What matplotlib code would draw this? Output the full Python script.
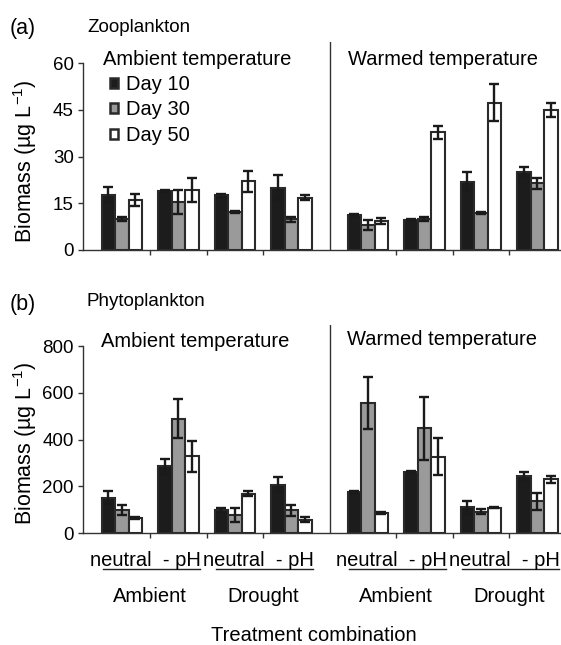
import matplotlib
matplotlib.use('Agg')
import numpy as np
import matplotlib.pyplot as plt
from matplotlib.transforms import blended_transform_factory
from matplotlib.patches import Patch

plt.rcParams['font.family'] = ['Liberation Sans', 'DejaVu Sans']
plt.rcParams['mathtext.fontset'] = 'custom'
plt.rcParams['mathtext.rm'] = 'Liberation Sans'
plt.rcParams['mathtext.it'] = 'Liberation Sans:italic'
plt.rcParams['mathtext.bf'] = 'Liberation Sans:bold'

# data: 8 treatment groups (ambient temp: amb-neutral, amb-pH, dro-neutral, dro-pH; then warmed temp)
days = ['Day 10', 'Day 30', 'Day 50']

zoo_d10 = [17.7, 19.0, 17.6, 20.0, 11.2, 9.6, 21.9, 24.9]
zoo_d10_err = [2.4, 0.4, 0.5, 4.0, 0.2, 0.3, 3.0, 1.6]
zoo_d30 = [10.0, 15.3, 12.2, 9.8, 8.0, 10.0, 12.0, 21.4]
zoo_d30_err = [0.6, 3.8, 0.2, 0.8, 1.5, 0.6, 0.3, 1.8]
zoo_d50 = [16.0, 19.3, 22.0, 16.8, 9.3, 37.8, 47.3, 45.0]
zoo_d50_err = [2.0, 3.9, 3.3, 0.8, 1.0, 2.1, 6.0, 2.2]

phy_d10 = [152, 286, 100, 208, 178, 262, 111, 243]
phy_d10_err = [28, 33, 10, 33, 4, 4, 27, 21]
phy_d30 = [100, 490, 78, 98, 557, 448, 93, 136]
phy_d30_err = [21, 83, 28, 23, 111, 136, 12, 36]
phy_d50 = [65, 330, 170, 58, 86, 328, 110, 230]
phy_d50_err = [4, 66, 11, 11, 4, 78, 3, 16]

xpos = np.array([0, 1, 2, 3, 4.35, 5.35, 6.35, 7.35])
pair_labels = ['neutral  - pH'] * 4
drought_labels = ['Ambient', 'Drought', 'Ambient', 'Drought']

W, H = 561, 645
fig = plt.figure(figsize=(W / 100, H / 100), dpi=100)


def fx(x):
    return x / W


def fy(y):
    return 1 - y / H


colors = ['#1c1c1c', '#9a9a9a', 'white']
bw = 0.239


def panel(rect, ymax, top, yticks, series, errs):
    ax = fig.add_axes(rect)
    for i, (vals, err) in enumerate(zip(series, errs)):
        ax.bar(xpos + (i - 1) * bw, vals, bw, yerr=err, color=colors[i],
               edgecolor='#2a2a2a', linewidth=1.5, capsize=3.5,
               error_kw=dict(elinewidth=1.7, capthick=1.7, ecolor='#1a1a1a'),
               label=days[i], zorder=3)
    ax.set_xlim(-0.69, 7.77)
    ax.set_ylim(0, top)
    ax.set_yticks(yticks)
    ax.spines['top'].set_visible(False)
    ax.spines['right'].set_visible(False)
    ax.spines['left'].set_bounds(0, ymax)
    for s in ['left', 'bottom']:
        ax.spines[s].set_color('#333333')
        ax.spines[s].set_linewidth(1.0)
    ax.set_xticks([0.5, 1.5, 2.5, 4.85, 5.85, 6.85])
    ax.set_xticklabels([])
    ax.tick_params(axis='both', direction='out', length=3.5, width=1.0,
                   color='#333333', labelsize=13.5, pad=3)
    ax.axvline(3.675, color='#333333', lw=1.0)
    return ax


ax1 = panel([fx(83), fy(250), 1 - fx(83), (250 - 42) / H], 60, 60 * 208 / 187,
            [0, 15, 30, 45, 60], [zoo_d10, zoo_d30, zoo_d50],
            [zoo_d10_err, zoo_d30_err, zoo_d50_err])
ax2 = panel([fx(83), fy(533.3), 1 - fx(83), (533.3 - 325) / H], 800, 800 * 208 / 187,
            [0, 200, 400, 600, 800], [phy_d10, phy_d30, phy_d50],
            [phy_d10_err, phy_d30_err, phy_d50_err])

# panel texts
fig.text(fx(10), fy(34), '(a)', fontsize=15.5, va='baseline')
fig.text(fx(87), fy(32), 'Zooplankton', fontsize=13.5, va='baseline')
fig.text(fx(103), fy(65), 'Ambient temperature', fontsize=14.5, va='baseline')
fig.text(fx(348), fy(65), 'Warmed temperature', fontsize=14.5, va='baseline')

fig.text(fx(10), fy(310), '(b)', fontsize=15.5, va='baseline')
fig.text(fx(86), fy(306), 'Phytoplankton', fontsize=13.5, va='baseline')
fig.text(fx(101), fy(347), 'Ambient temperature', fontsize=14.5, va='baseline')
fig.text(fx(347), fy(345), 'Warmed temperature', fontsize=14.5, va='baseline')

ylab = 'Biomass (µg L$^{-1}$)'
fig.text(fx(25), fy(161), ylab, fontsize=15.5, rotation=90, ha='center', va='center')
fig.text(fx(25), fy(443), ylab, fontsize=15.5, rotation=90, ha='center', va='center')

# legend
handles = [Patch(facecolor=c, edgecolor='#2a2a2a', linewidth=1.8) for c in colors]
fig.legend(handles, days, loc='upper left', bbox_to_anchor=(fx(110), fy(75)),
           frameon=False, fontsize=14.5, handlelength=0.38, handleheight=0.38,
           handletextpad=0.4, labelspacing=0.32, borderpad=0, borderaxespad=0)

# x labels under panel b
blend = blended_transform_factory(ax2.transData, fig.transFigure)
for k, g in enumerate([0, 2, 4.35, 6.35]):
    ax2.text(g + 0.42, fy(566), pair_labels[k], transform=blend, fontsize=14.5,
             ha='center', va='baseline')
    ax2.plot([g - 0.33, g + 1.38], [fy(569), fy(569)], transform=blend,
             color='#222222', lw=1.0, clip_on=False)
    ax2.text(g + 0.5, fy(602), drought_labels[k], transform=blend, fontsize=14.5,
             ha='center', va='baseline')

fig.text(fx(314), fy(641), 'Treatment combination', fontsize=14.5, ha='center', va='baseline')

fig.savefig('out.png', dpi=100)
